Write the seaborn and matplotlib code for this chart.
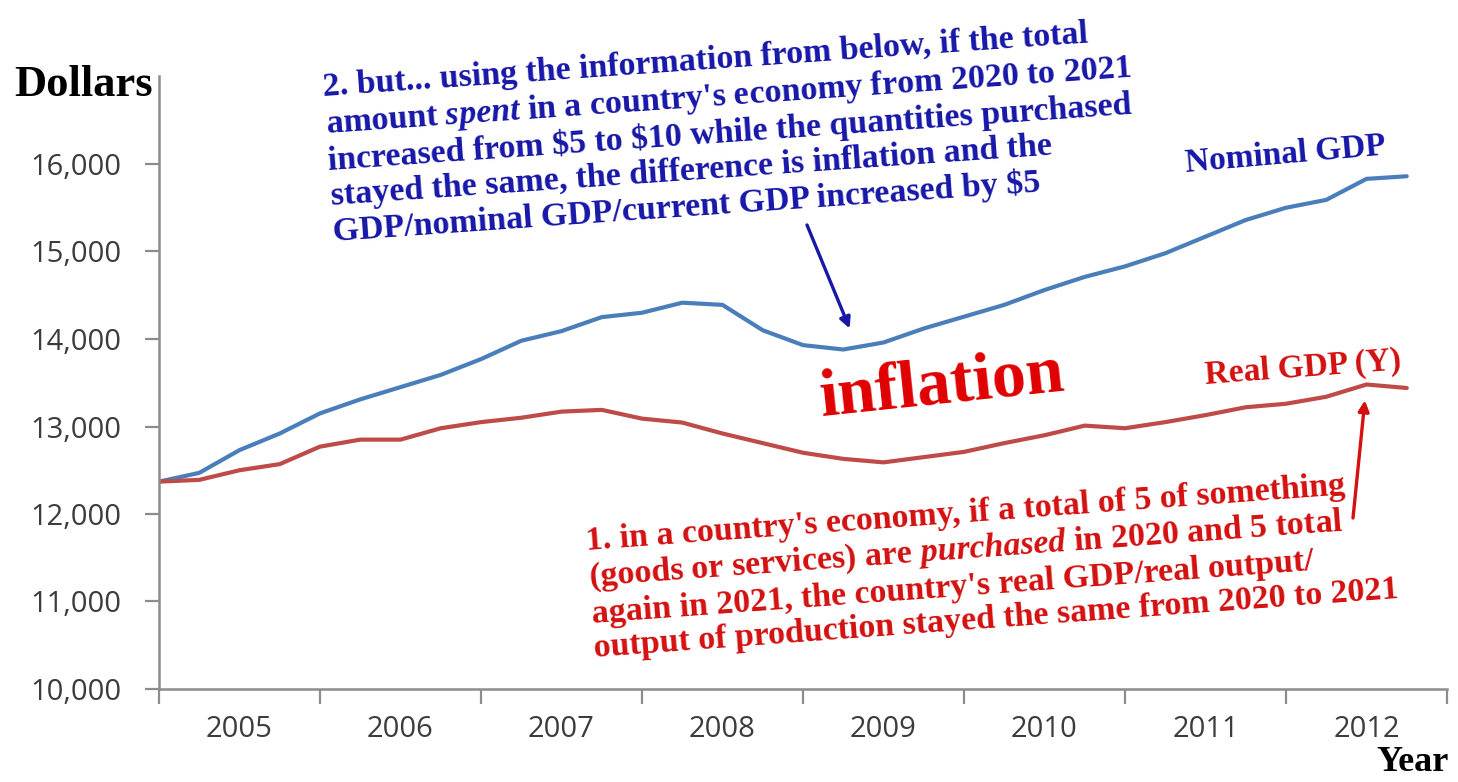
import matplotlib
matplotlib.use("Agg")
import matplotlib.pyplot as plt
import pandas as pd
import seaborn as sns

# Canvas size in pixels
W, H = 1458, 782

# Quarterly data, 2005Q1 .. 2012Q4
quarters = pd.period_range("2005Q1", "2012Q4", freq="Q")
nominal_gdp = [12370, 12470, 12730, 12920, 13150, 13310, 13450, 13590,
               13770, 13980, 14090, 14250, 14300, 14415, 14390, 14100,
               13930, 13880, 13960, 14120, 14255, 14390, 14560, 14710,
               14830, 14980, 15170, 15360, 15500, 15590, 15830, 15860]
real_gdp = [12370, 12390, 12500, 12570, 12770, 12850, 12850, 12980,
            13050, 13100, 13170, 13190, 13090, 13045, 12920, 12810,
            12700, 12630, 12590, 12650, 12710, 12810, 12900, 13010,
            12980, 13050, 13130, 13220, 13260, 13340, 13480, 13440]
series_names = ["Nominal GDP", "Real GDP (Y)"]
years = list(range(2005, 2013))
y_ticks = [10000, 11000, 12000, 13000, 14000, 15000, 16000]

# Annotation texts
blue_note = ("2. but... using the information from below, if the total\n"
             "amount $\\mathit{spent}$ in a country's economy from 2020 to 2021\n"
             "increased from \\$5 to \\$10 while the quantities purchased\n"
             "stayed the same, the difference is inflation and the\n"
             "GDP/nominal GDP/current GDP increased by \\$5")
red_note = ("1. in a country's economy, if a total of 5 of something\n"
            "(goods or services) are $\\mathit{purchased}$ in 2020 and 5 total\n"
            "again in 2021, the country's real GDP/real output/\n"
            "output of production stayed the same from 2020 to 2021")

# Colours
LINE_BLUE = "#4a7ebb"
LINE_RED = "#be4b48"
TXT_BLUE = "#1717a8"
TXT_RED = "#d41010"
AXIS_GRAY = "#8c8c8c"

# Long-form table for seaborn
t = list(quarters.year + (quarters.quarter - 1) / 4)
df = pd.DataFrame({
    "t": t * 2,
    "value": nominal_gdp + real_gdp,
    "series": [series_names[0]] * len(t) + [series_names[1]] * len(t),
})

sns.set_style("white")
plt.rcParams["font.family"] = ["Liberation Serif", "DejaVu Serif"]
plt.rcParams["mathtext.fontset"] = "custom"
plt.rcParams["mathtext.it"] = "Liberation Serif:italic:bold"
plt.rcParams["mathtext.rm"] = "Liberation Serif:bold"


def fx(x):
    return x / W


def fy(y):
    return 1 - y / H


fig = plt.figure(figsize=(W / 100, H / 100), dpi=100)
ax = fig.add_axes([fx(159), fy(689), (1447 - 159) / W, (689 - 76.5) / H])

sns.lineplot(data=df, x="t", y="value", hue="series",
             palette={series_names[0]: LINE_BLUE, series_names[1]: LINE_RED},
             linewidth=3.0, legend=False, ax=ax)

ax.set_xlim(years[0], years[-1] + 1)
ax.set_ylim(10000, 17000)
ax.set_xlabel("")
ax.set_ylabel("")

# x: tick marks at year boundaries, labels centred in each year
ax.set_xticks(years + [years[-1] + 1])
ax.set_xticks([y + 0.5 for y in years], minor=True)
ax.set_xticklabels([str(y) for y in years], minor=True,
                   family="Open Sans", fontsize=21, color="#3c3c3c")
ax.tick_params(axis="x", which="major", length=11, width=1.6,
               color=AXIS_GRAY, labelbottom=False, bottom=True)
ax.tick_params(axis="x", which="minor", length=0, pad=19)

ax.set_yticks(y_ticks)
ax.set_yticklabels([f"{v:,}" for v in y_ticks],
                   family="Open Sans", fontsize=21, color="#3c3c3c")
ax.tick_params(axis="y", length=10, width=1.6, color=AXIS_GRAY, pad=17, left=True)

for side in ["top", "right"]:
    ax.spines[side].set_visible(False)
for side in ["left", "bottom"]:
    ax.spines[side].set_color(AXIS_GRAY)
    ax.spines[side].set_linewidth(1.8)

# Axis titles
fig.text(fx(14), fy(96), "Dollars", fontsize=32, fontweight="bold",
         color="black", ha="left", va="baseline")
fig.text(fx(1449), fy(771), "Year", fontsize=26, fontweight="bold",
         color="black", ha="right", va="baseline")

# Paragraph notes
fig.text(fx(322), fy(72), blue_note, fontsize=24.5, fontweight="bold",
         color=TXT_BLUE, ha="left", va="top", rotation=4,
         rotation_mode="anchor", linespacing=1.15)
fig.text(fx(585), fy(526), red_note, fontsize=24.5, fontweight="bold",
         color=TXT_RED, ha="left", va="top", rotation=4.2,
         rotation_mode="anchor", linespacing=1.15)

# Series labels
fig.text(fx(1186), fy(172), "Nominal GDP", fontsize=24, fontweight="bold",
         color=TXT_BLUE, ha="left", va="baseline", rotation=5,
         rotation_mode="anchor")
fig.text(fx(1205), fy(384), "Real GDP (Y)", fontsize=24, fontweight="bold",
         color=TXT_RED, ha="left", va="baseline", rotation=4.3,
         rotation_mode="anchor")
fig.text(fx(821), fy(416), "inflation", fontsize=49, fontweight="bold",
         color="#e00000", ha="left", va="baseline", rotation=6,
         rotation_mode="anchor")

# Arrows
ax.annotate("", xy=(2009.29, 14120), xycoords="data",
            xytext=(fx(807), fy(225)), textcoords="figure fraction",
            arrowprops=dict(arrowstyle="-|>", color=TXT_BLUE, lw=2.4,
                            mutation_scale=16, shrinkA=0, shrinkB=0))
ax.annotate("", xy=(2012.49, 13300), xycoords="data",
            xytext=(fx(1353), fy(518)), textcoords="figure fraction",
            arrowprops=dict(arrowstyle="-|>", color=TXT_RED, lw=2.4,
                            mutation_scale=16, shrinkA=0, shrinkB=0))

fig.savefig("out.png", dpi=100, facecolor="white")
